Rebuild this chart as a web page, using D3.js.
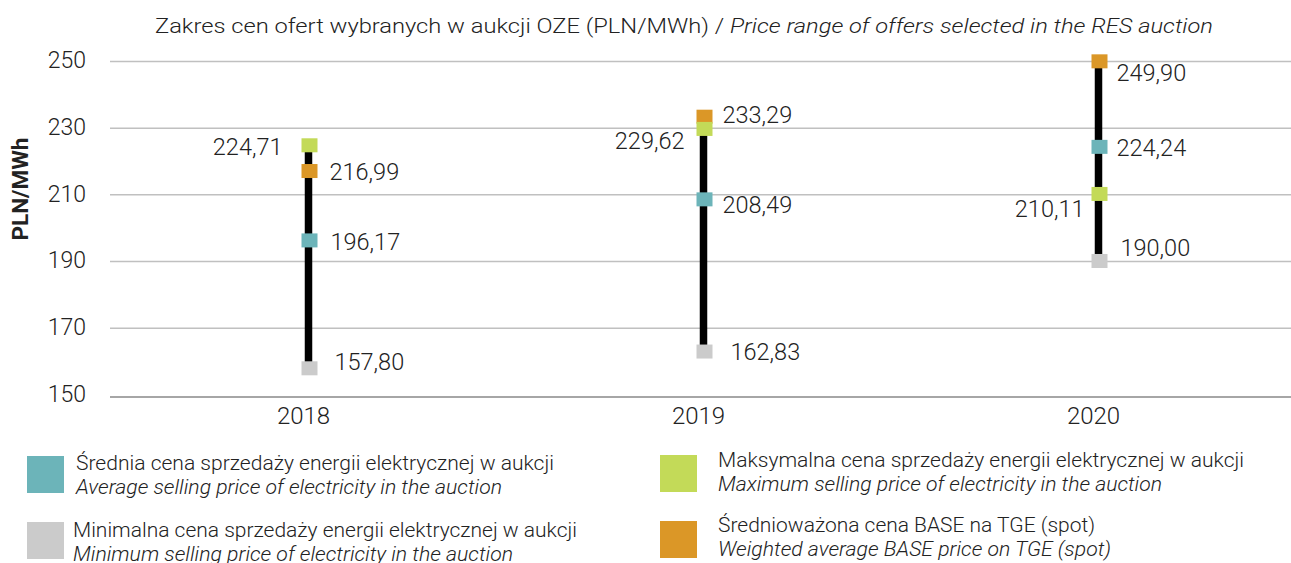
<!DOCTYPE html>
<html>
<head>
<meta charset="utf-8">
<script src="https://cdn.jsdelivr.net/npm/d3@7"></script>
<style>
body { margin:0; background:#fff; }
svg { display:block; font-family:Roboto, "Noto Sans", sans-serif; font-weight:300; }
text { fill:#222; }
</style>
</head>
<body>
<svg width="1291" height="563"></svg>
<script>
var years = ["2018","2019","2020"];
var avgPrice  = [196.17, 208.49, 224.24];
var maxPrice  = [224.71, 229.62, 210.11];
var minPrice  = [157.80, 162.83, 190.00];
var spotPrice = [216.99, 233.29, 249.90];
var yTicks = [150,170,190,210,230,250];

var seriesNames = ["avg","max","min","spot"];
var seriesVals = {avg:avgPrice, max:maxPrice, min:minPrice, spot:spotPrice};
var colors = {avg:"#6cb4b9", max:"#c3da58", min:"#cbcbcb", spot:"#db9727"};

// label placement per series and year: [dx, dy]
var labelPos = {
    avg:  [[21,1],[18,5],[17,1]],
    max:  [[-27,1],[-20,12],[-15,15]],
    min:  [[25,-6.5],[26,0],[21,-13]],
    spot: [[20,1],[18,-2],[17,11.5]]
};

var svg = d3.select("svg");

var x = d3.scaleBand().domain(years).range([112,1297]);
var y = d3.scaleLinear().domain([150,250]).range([394.3,61]);
var fmt = function(v){ return d3.format(".2f")(v).replace(".",","); };

// gridlines
svg.append("g")
    .attr("transform","translate(110,0)")
    .call(d3.axisLeft(y).tickValues(yTicks.slice(1)).tickSize(-1181).tickFormat(""))
    .call(function(g){ g.select(".domain").remove(); })
    .selectAll("line").attr("stroke","#c0c0c0").attr("stroke-width",1.5);

// y labels
svg.append("g")
    .attr("transform","translate(110,0)")
    .call(d3.axisLeft(y).tickValues(yTicks).tickSize(0).tickPadding(24))
    .call(function(g){ g.select(".domain").remove(); })
    .selectAll("text")
    .attr("font-family","Roboto").attr("font-weight",300)
    .attr("font-size",23).attr("fill","#222").attr("dy","0.3em");

// x axis
var xg = svg.append("g")
    .attr("transform","translate(0,397)")
    .call(d3.axisBottom(x).tickSize(0).tickPadding(10));
xg.select(".domain").attr("d","M110,0H1291").attr("stroke","#888").attr("stroke-width",1.5);
xg.selectAll("text")
    .attr("font-family","Roboto").attr("font-weight",300)
    .attr("font-size",24).attr("fill","#222").attr("dx",-6);

// range line
var ranges = years.map(function(yr,i){
    var v = seriesNames.map(function(s){ return seriesVals[s][i]; });
    return {year:yr, lo:d3.min(v), hi:d3.max(v)};
});
svg.selectAll(".range")
    .data(ranges)
    .enter()
    .append("line")
    .attr("class","range")
    .attr("x1",function(d){ return x(d.year)+x.bandwidth()/2-1; })
    .attr("x2",function(d){ return x(d.year)+x.bandwidth()/2-1; })
    .attr("y1",function(d){ return y(d.lo); })
    .attr("y2",function(d){ return y(d.hi); })
    .attr("stroke","#000").attr("stroke-width",7.5);

// markers + labels
["avg","min","spot","max"].forEach(function(s){
    var pts = years.map(function(yr,i){ return {year:yr, v:seriesVals[s][i], i:i}; });
    svg.selectAll(".m-"+s)
        .data(pts)
        .enter()
        .append("rect")
        .attr("class","m-"+s)
        .attr("x",function(d){ return x(d.year)+x.bandwidth()/2-8; })
        .attr("y",function(d){ return y(d.v)-7; })
        .attr("width",16).attr("height",14)
        .attr("fill",colors[s]);
    svg.selectAll(".l-"+s)
        .data(pts)
        .enter()
        .append("text")
        .attr("class","l-"+s)
        .attr("x",function(d){ return x(d.year)+x.bandwidth()/2+labelPos[s][d.i][0]; })
        .attr("y",function(d){ return y(d.v)+labelPos[s][d.i][1]; })
        .attr("dy","0.36em")
        .attr("text-anchor",s=="max"?"end":"start")
        .attr("font-size",23.5)
        .text(function(d){ return fmt(d.v); });
});

// title
var title = svg.append("text")
    .attr("x",684).attr("y",33)
    .attr("text-anchor","middle")
    .attr("font-size",21)
    .attr("textLength",1058).attr("lengthAdjust","spacingAndGlyphs");
title.append("tspan").text("Zakres cen ofert wybranych w aukcji OZE (PLN/MWh) / ");
title.append("tspan").attr("font-style","italic").text("Price range of offers selected in the RES auction");

// y axis title
svg.append("text")
    .attr("transform","translate(28,189) rotate(-90)")
    .attr("text-anchor","middle")
    .attr("font-weight",700)
    .attr("font-size",22.5)
    .attr("fill","#111")
    .text("PLN/MWh");

// legend
var legend = [
    {key:"avg", x:27, y:456, tx:76, b1:470, w1:478, w2:426, pl:"Średnia cena sprzedaży energii elektrycznej w aukcji", en:"Average selling price of electricity in the auction"},
    {key:"min", x:27, y:522, tx:73, b1:537, w1:504, w2:440, pl:"Minimalna cena sprzedaży energii elektrycznej w aukcji", en:"Minimum selling price of electricity in the auction"},
    {key:"max", x:660, y:455, tx:718, b1:467, w1:526, w2:444, pl:"Maksymalna cena sprzedaży energii elektrycznej w aukcji", en:"Maximum selling price of electricity in the auction"},
    {key:"spot", x:660, y:521, tx:718, b1:532, w1:377, w2:393, pl:"Średnioważona cena BASE na TGE (spot)", en:"Weighted average BASE price on TGE (spot)"}
];
var lg = svg.selectAll(".lg").data(legend).enter().append("g").attr("class","lg");
lg.append("rect")
    .attr("x",function(d){ return d.x; })
    .attr("y",function(d){ return d.y; })
    .attr("width",37).attr("height",37)
    .attr("fill",function(d){ return colors[d.key]; });
lg.append("text")
    .attr("x",function(d){ return d.tx; })
    .attr("y",function(d){ return d.b1; })
    .attr("font-size",19.5)
    .attr("textLength",function(d){ return d.w1; })
    .attr("lengthAdjust","spacingAndGlyphs")
    .text(function(d){ return d.pl; });
lg.append("text")
    .attr("x",function(d){ return d.tx; })
    .attr("y",function(d){ return d.b1+23.5; })
    .attr("font-size",19.5)
    .attr("font-style","italic")
    .attr("textLength",function(d){ return d.w2; })
    .attr("lengthAdjust","spacingAndGlyphs")
    .text(function(d){ return d.en; });
</script>
</body>
</html>
